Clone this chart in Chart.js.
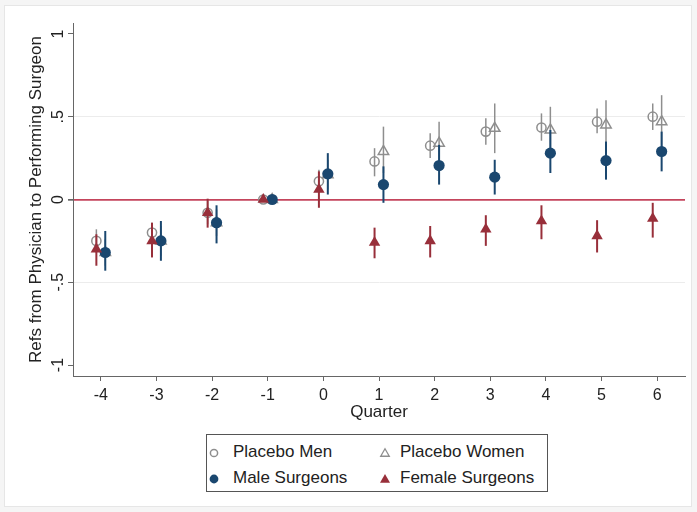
<!DOCTYPE html>
<html><head><meta charset="utf-8">
<script src="https://cdn.jsdelivr.net/npm/chart.js@4.4.1/dist/chart.umd.min.js"></script>
<style>
html,body{margin:0;padding:0;background:#f5f5f5;}
#wrap{position:relative;width:697px;height:512px;overflow:hidden;}
#frame{position:absolute;left:4px;top:5px;width:688px;height:502px;background:#fff;border:1px solid #e6e6e6;box-sizing:border-box;}
#c{position:absolute;left:0;top:0;}
#legend{position:absolute;left:206px;top:434px;width:342px;height:58px;box-sizing:border-box;border:1px solid #555;background:#fff;font-family:"Liberation Sans",Arial,sans-serif;font-size:17px;color:#222;}
.mk{position:absolute;width:14px;height:14px;}
.tx{position:absolute;height:20px;line-height:20px;white-space:nowrap;}
</style>
</head><body>
<div id="wrap">
<div id="frame"></div>
<canvas id="c" width="697" height="512"></canvas>
<div id="legend"></div>
</div>
<script>
// ---- data ----
const quarters = [-4, -3, -2, -1, 0, 1, 2, 3, 4, 5, 6];
const xTicks = [-4, -3, -2, -1, 0, 1, 2, 3, 4, 5, 6];
const yTicks = [-1, -0.5, 0, 0.5, 1];
const yTickLabels = ['-1', '-.5', '0', '.5', '1'];
const seriesNames = ['Placebo Men', 'Placebo Women', 'Male Surgeons', 'Female Surgeons'];

const placeboMen   = [-0.25, -0.20, -0.08, 0, 0.11, 0.23, 0.325, 0.41, 0.435, 0.47, 0.50];
const placeboMenLo = [-0.32, -0.27, -0.15, null, 0.04, 0.14, 0.25, 0.33, 0.355, 0.40, 0.42];
const placeboMenHi = [-0.18, -0.14, -0.01, null, 0.18, 0.31, 0.40, 0.49, 0.52, 0.55, 0.58];

const placeboWomen   = [-0.32, -0.25, -0.14, 0, 0.15, 0.29, 0.34, 0.43, 0.42, 0.45, 0.47];
const placeboWomenLo = [-0.40, -0.34, -0.22, null, 0.06, 0.16, 0.22, 0.28, 0.28, 0.30, 0.32];
const placeboWomenHi = [-0.24, -0.16, -0.06, null, 0.24, 0.44, 0.47, 0.58, 0.56, 0.60, 0.63];

const maleSurgeons   = [-0.32, -0.25, -0.14, 0, 0.155, 0.09, 0.205, 0.135, 0.28, 0.235, 0.29];
const maleSurgeonsLo = [-0.43, -0.37, -0.265, null, 0.03, -0.02, 0.09, 0.03, 0.16, 0.12, 0.17];
const maleSurgeonsHi = [-0.19, -0.13, -0.035, null, 0.28, 0.20, 0.33, 0.24, 0.42, 0.35, 0.41];

const femaleSurgeons   = [-0.30, -0.25, -0.08, 0, 0.06, -0.26, -0.25, -0.18, -0.13, -0.22, -0.115];
const femaleSurgeonsLo = [-0.40, -0.35, -0.17, null, -0.05, -0.355, -0.35, -0.28, -0.24, -0.32, -0.23];
const femaleSurgeonsHi = [-0.21, -0.14, 0.005, null, 0.17, -0.17, -0.16, -0.095, -0.035, -0.125, -0.02];

// ---- styling ----
const FONT = '"Liberation Sans", Arial, sans-serif';
const GRAY = '#8e8e8e', BLUE = '#1a476f', RED = '#982f3a', LINE_RED = '#c4455c';
const dodge = 0.08;

function pts(vals, off) { return quarters.map((q, i) => ({x: q + off, y: vals[i]})); }

const styles = {
  'Placebo Men':     {vals: placeboMen, lo: placeboMenLo, hi: placeboMenHi, off: -dodge, style: 'circle', r: 4.6, fill: 'rgba(0,0,0,0)', stroke: GRAY, bw: 1.5, ciw: 1.5},
  'Placebo Women':   {vals: placeboWomen, lo: placeboWomenLo, hi: placeboWomenHi, off: dodge, style: 'triangle', r: 6, fill: 'rgba(0,0,0,0)', stroke: GRAY, bw: 1.5, ciw: 1.5},
  'Male Surgeons':   {vals: maleSurgeons, lo: maleSurgeonsLo, hi: maleSurgeonsHi, off: dodge, style: 'circle', r: 5.6, fill: BLUE, stroke: BLUE, bw: 0, ciw: 2},
  'Female Surgeons': {vals: femaleSurgeons, lo: femaleSurgeonsLo, hi: femaleSurgeonsHi, off: -dodge, style: 'triangle', r: 6.6, fill: RED, stroke: RED, bw: 0, ciw: 2},
};

// datasets listed so that later series end on top
const datasets = seriesNames.slice().reverse().map(name => {
  const s = styles[name];
  return {
    label: name, data: pts(s.vals, s.off), lo: s.lo, hi: s.hi, ciColor: s.stroke, ciWidth: s.ciw,
    pointStyle: s.style, pointRadius: s.r, pointHoverRadius: s.r,
    backgroundColor: s.fill, borderColor: s.stroke, pointBorderWidth: s.bw, showLine: false
  };
});

const errorBars = {
  id: 'errorBars',
  beforeDatasetDraw(chart, args) {
    const ds = chart.data.datasets[args.index];
    const ys = chart.scales.y, ctx = chart.ctx;
    ctx.save();
    ctx.strokeStyle = ds.ciColor; ctx.lineWidth = ds.ciWidth;
    args.meta.data.forEach((el, i) => {
      if (ds.lo[i] == null || ds.hi[i] == null) return;
      ctx.beginPath();
      ctx.moveTo(el.x, ys.getPixelForValue(ds.lo[i]));
      ctx.lineTo(el.x, ys.getPixelForValue(ds.hi[i]));
      ctx.stroke();
    });
    ctx.restore();
  }
};

const chart = new Chart(document.getElementById('c'), {
  type: 'scatter',
  data: {datasets},
  plugins: [errorBars],
  options: {
    responsive: false, animation: false, events: [],
    layout: {padding: {top: 23, right: 12, bottom: 89, left: 0}},
    plugins: {legend: {display: false}, tooltip: {enabled: false}},
    scales: {
      x: {
        type: 'linear', min: -4.5, max: 6.5,
        afterBuildTicks: s => { s.ticks = xTicks.map(v => ({value: v})); },
        afterFit: s => { s.height = 47; },
        ticks: {font: {family: FONT, size: 16}, color: '#222', padding: 5, callback: v => String(v)},
        grid: {drawOnChartArea: false, tickLength: 5, tickColor: '#666', lineWidth: 1},
        border: {color: '#666', width: 1},
        title: {display: true, text: 'Quarter', font: {family: FONT, size: 17}, color: '#222', padding: {top: 0, bottom: 0}}
      },
      y: {
        type: 'linear', min: -1.066, max: 1.066,
        afterBuildTicks: s => { s.ticks = yTicks.map(v => ({value: v})); },
        afterFit: s => { s.width = 73; },
        ticks: {font: {family: FONT, size: 16}, color: '#222', padding: 0, minRotation: 90, maxRotation: 90, crossAlign: 'center',
          callback: v => yTickLabels[yTicks.indexOf(v)]},
        grid: {
          color: c => (c.tick && c.tick.value === 0) ? LINE_RED : (c.tick && Math.abs(c.tick.value) === 0.5 ? '#ececec' : 'rgba(0,0,0,0)'),
          lineWidth: c => (c.tick && c.tick.value === 0) ? 1.7 : 1,
          tickLength: 5, tickColor: '#666'
        },
        border: {color: '#666', width: 1},
        title: {display: true, text: 'Refs from Physician to Performing Surgeon', font: {family: FONT, size: 17}, color: '#222', padding: {top: 26, bottom: 0}}
      }
    }
  }
});

// ---- HTML legend (2 x 2 grid, Stata style) ----
const legendPos = [[7, 17, 26], [178, 17, 193], [7, 43, 26], [178, 43, 193]];
const leg = document.getElementById('legend');
seriesNames.forEach((name, i) => {
  const s = styles[name];
  const [mx, my, tx] = legendPos[i];
  let shape;
  if (s.style === 'circle') {
    const r = s.fill === 'rgba(0,0,0,0)' ? 3.6 : 4.4;
    shape = `<circle cx="7" cy="7" r="${r}" fill="${s.fill === 'rgba(0,0,0,0)' ? 'none' : s.fill}" stroke="${s.stroke}" stroke-width="${s.bw || 0}"/>`;
  } else {
    const hollow = s.fill === 'rgba(0,0,0,0)';
    const h = hollow ? 4.3 : 5;
    const w = h * 1.0;
    shape = `<polygon points="7,${7 - h} ${7 + w},${7 + h * 0.75} ${7 - w},${7 + h * 0.75}" fill="${hollow ? 'none' : s.fill}" stroke="${s.stroke}" stroke-width="${hollow ? 1.3 : 0}"/>`;
  }
  const m = document.createElement('div');
  m.className = 'mk'; m.style.left = (mx - 7) + 'px'; m.style.top = (my - 7) + 'px';
  m.innerHTML = `<svg width="14" height="14" viewBox="0 0 14 14">${shape}</svg>`;
  leg.appendChild(m);
  const t = document.createElement('div');
  t.className = 'tx'; t.style.left = tx + 'px'; t.style.top = (my - 10) + 'px';
  t.textContent = name;
  leg.appendChild(t);
});
</script>
</body></html>
